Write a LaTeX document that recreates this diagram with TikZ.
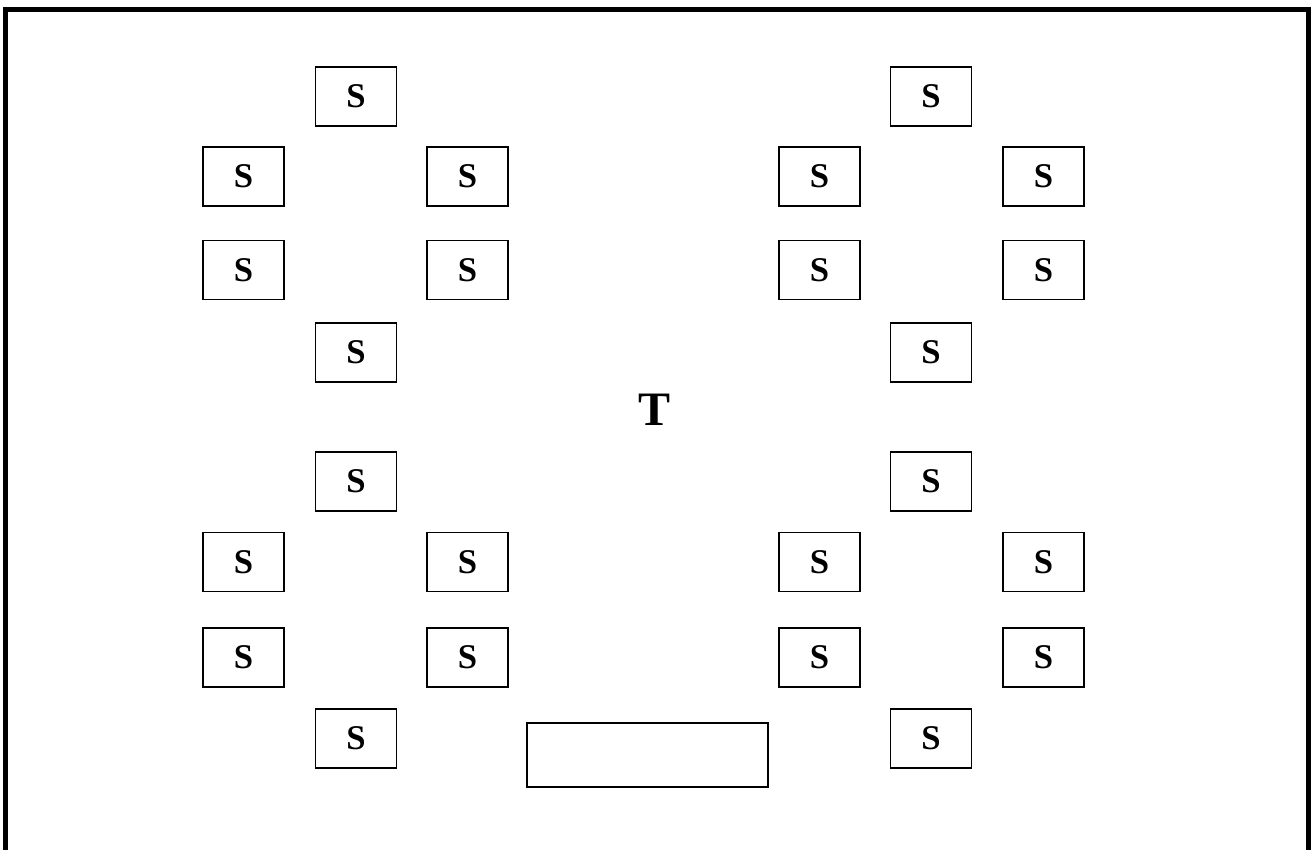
\documentclass[tikz,border=0pt]{standalone}
\usepackage{fontspec}
\setmainfont{Liberation Serif}[BoldFont={Liberation Serif Bold}]
\begin{document}
\begin{tikzpicture}[x=0.75pt,y=-0.75pt,
  seat/.style={draw,line width=1.1pt,minimum width=60.5pt,minimum height=44.5pt,inner sep=0pt,font=\fontsize{26}{26}\selectfont\bfseries},
  desk/.style={draw,line width=1.1pt,minimum width=180.5pt,minimum height=48pt,inner sep=0pt},
  frame/.style={line width=3.8pt}]
\useasboundingbox (0,0) rectangle (1311,850);
\coordinate (fl) at (5.5,850);
\coordinate (ftl) at (5.5,9.5);
\coordinate (ftr) at (1309,9.5);
\coordinate (fr) at (1309,850);
\draw[frame,line join=miter] (fl) -- (ftl) -- (ftr) -- (fr);
% left group
\node[seat] (l1) at (356,96.5) {S};
\node[seat] (l2) at (243.5,176.5) {S};
\node[seat] (l3) at (467.5,176.5) {S};
\node[seat] (l4) at (243.5,270) {S};
\node[seat] (l5) at (467.5,270) {S};
\node[seat] (l6) at (356,352.5) {S};
\node[seat] (l7) at (356,481.5) {S};
\node[seat] (l8) at (243.5,562) {S};
\node[seat] (l9) at (467.5,562) {S};
\node[seat] (l10) at (243.5,657.5) {S};
\node[seat] (l11) at (467.5,657.5) {S};
\node[seat] (l12) at (356,738.5) {S};
% right group
\node[seat] (r1) at (931,96.5) {S};
\node[seat] (r2) at (819.5,176.5) {S};
\node[seat] (r3) at (1043.5,176.5) {S};
\node[seat] (r4) at (819.5,270) {S};
\node[seat] (r5) at (1043.5,270) {S};
\node[seat] (r6) at (931,352.5) {S};
\node[seat] (r7) at (931,481.5) {S};
\node[seat] (r8) at (819.5,562) {S};
\node[seat] (r9) at (1043.5,562) {S};
\node[seat] (r10) at (819.5,657.5) {S};
\node[seat] (r11) at (1043.5,657.5) {S};
\node[seat] (r12) at (931,738.5) {S};
% teacher
\node[font=\fontsize{36}{36}\selectfont\bfseries] (t) at (655,410) {T};
\node[desk] (d) at (647.5,755) {};
\end{tikzpicture}
\end{document}
